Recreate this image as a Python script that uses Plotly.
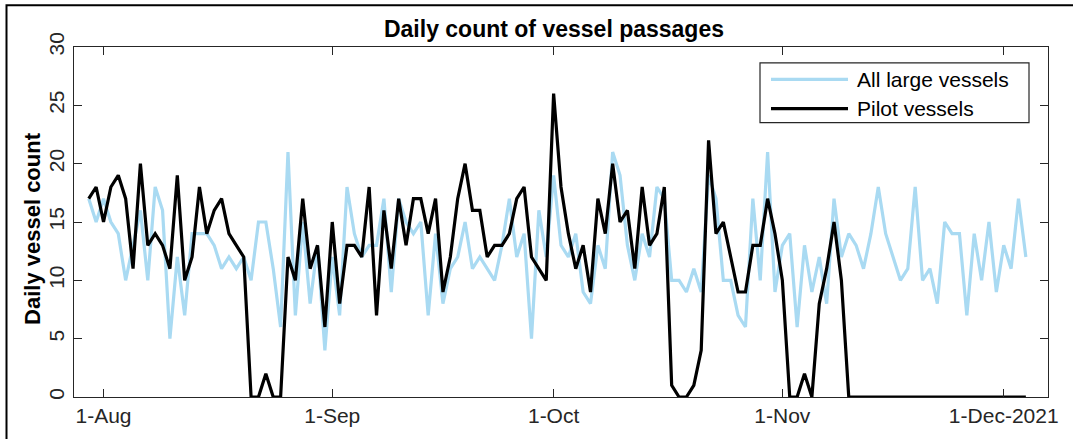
import pandas as pd
import plotly.graph_objects as go

# Daily passages, 30 Jul 2021 - 4 Dec 2021
days = pd.date_range("2021-07-30", "2021-12-04", freq="D")

all_large = [
    17, 15, 17, 15, 14, 10, 13, 16, 10, 18, 16, 5, 12, 7, 14, 14, 14, 13, 11, 12, 11, 12,
    10, 15, 15, 11, 6, 21, 7, 15, 8, 13, 4, 12, 7, 18, 14, 12, 13, 13, 17, 9, 17, 15, 14, 15, 7, 14,
    8, 11, 12, 15, 11, 12, 11, 10, 13, 17, 12, 14, 5, 16, 12, 19, 13, 12, 14, 9, 8, 13, 11, 21, 19,
    13, 10, 14, 12, 18, 17, 10, 10, 9, 11, 9, 19, 17, 10, 10, 7, 6, 17, 10, 21, 9,
    13, 14, 6, 13, 9, 12, 8, 17, 12, 14, 13, 11, 14, 18, 14, 12, 10, 11, 18, 10, 11, 8,
    15, 14, 14, 7, 14, 10, 15, 9, 13, 11, 17, 12,
]

pilot = [
    17, 18, 15, 18, 19, 17, 11, 20, 13, 14, 13, 11, 19, 10, 12, 18, 14, 16, 17, 14, 13, 12,
    0, 0, 2, 0, 0,
    12, 10, 17, 11, 13, 6, 15, 8, 13, 13, 12, 18, 7, 16, 11, 17, 13, 17, 17, 14, 17,
    9, 12, 17, 20, 16, 16, 12, 13, 13, 14, 17, 18, 12, 11, 10, 26, 18, 14, 11, 13, 9, 17, 14, 20, 15,
    16, 11, 18, 13, 14, 18, 1, 0, 0, 1, 4, 22, 14, 15, 12, 9, 9, 13, 13, 17, 14,
    10,
    0, 0, 2, 0, 8, 11, 15,
    10,
    0, 0, 0, 0, 0, 0, 0, 0, 0, 0, 0, 0, 0, 0, 0, 0, 0, 0, 0, 0, 0, 0, 0, 0, 0,
]

tick_dates = ["2021-08-01", "2021-09-01", "2021-10-01", "2021-11-01", "2021-12-01"]
tick_labels = ["1-Aug", "1-Sep", "1-Oct", "1-Nov", "1-Dec-2021"]
y_ticks = [0, 5, 10, 15, 20, 25, 30]

series_names = ["All large vessels", "Pilot vessels"]
series_colors = ["#A9DAF2", "#000000"]
LINE_W = 3.2
FONT = "Liberation Sans, Arial, Helvetica, sans-serif"
AXIS_COLOR = "#262626"

W, H = 1073, 439
ML, MR, MT, MB = 74, 25, 47, 40
PW, PH = W - ML - MR, H - MT - MB


def px_to_paper_x(px):
    return (px - ML) / PW


def px_to_paper_y(py):
    return (H - MB - py) / PH


fig = go.Figure()
for name, vals, col in zip(series_names, [all_large, pilot], series_colors):
    fig.add_trace(go.Scatter(
        x=days, y=vals, mode="lines", name=name,
        line=dict(color=col, width=LINE_W),
        showlegend=False,
    ))

axis_common = dict(
    showline=True, linecolor=AXIS_COLOR, linewidth=1.3, mirror="ticks",
    ticks="inside", ticklen=8, tickwidth=1.2, tickcolor=AXIS_COLOR,
    showgrid=False, zeroline=False,
    tickfont=dict(family=FONT, size=21, color="#262626"),
)

fig.update_xaxes(
    range=["2021-07-28", "2021-12-07"],
    tickvals=tick_dates, ticktext=tick_labels,
    **axis_common,
)
fig.update_yaxes(
    range=[0, 30], tickvals=y_ticks, tickangle=-90,
    **axis_common,
)

shapes = []
annotations = []

# outer frame: left edge and top edge as one open path
x_left = px_to_paper_x(6.5)
y_top = px_to_paper_y(5)
shapes.append(dict(
    type="path", xref="paper", yref="paper",
    path=f"M {x_left},{px_to_paper_y(445)} L {x_left},{y_top} L {px_to_paper_x(1080)},{y_top}",
    line=dict(color="#000000", width=2), layer="above",
))

# legend box with line samples
lg_x0, lg_x1, lg_y0, lg_y1 = 760, 1029, 63, 123
shapes.append(dict(
    type="rect", xref="paper", yref="paper",
    x0=px_to_paper_x(lg_x0), x1=px_to_paper_x(lg_x1),
    y0=px_to_paper_y(lg_y1), y1=px_to_paper_y(lg_y0),
    line=dict(color=AXIS_COLOR, width=1.2), fillcolor="white", layer="above",
))
for i, (name, col) in enumerate(zip(series_names, series_colors)):
    ry = 79.5 + i * 29.5
    shapes.append(dict(
        type="line", xref="paper", yref="paper",
        x0=px_to_paper_x(771), x1=px_to_paper_x(848),
        y0=px_to_paper_y(ry), y1=px_to_paper_y(ry),
        line=dict(color=col, width=LINE_W), layer="above",
    ))
    annotations.append(dict(
        text=name, xref="paper", yref="paper",
        x=px_to_paper_x(855), y=px_to_paper_y(ry),
        xanchor="left", yanchor="middle", showarrow=False,
        font=dict(family=FONT, size=21, color="#000000"),
    ))

# y axis title
annotations.append(dict(
    text="<b>Daily vessel count</b>", xref="paper", yref="paper",
    x=px_to_paper_x(33), y=px_to_paper_y(230),
    xanchor="center", yanchor="middle", textangle=-90, showarrow=False,
    font=dict(family=FONT, size=22, color="#000000"),
))

fig.update_layout(
    width=W, height=H,
    margin=dict(l=ML, r=MR, t=MT, b=MB),
    paper_bgcolor="white", plot_bgcolor="white",
    title=dict(
        text="<b>Daily count of vessel passages</b>",
        x=554 / W, xanchor="center", xref="container",
        y=1 - 28.5 / H, yanchor="middle", yref="container",
        font=dict(family=FONT, size=23, color="#000000"),
    ),
    shapes=shapes,
    annotations=annotations,
    showlegend=False,
)

fig.write_html("out.html")
